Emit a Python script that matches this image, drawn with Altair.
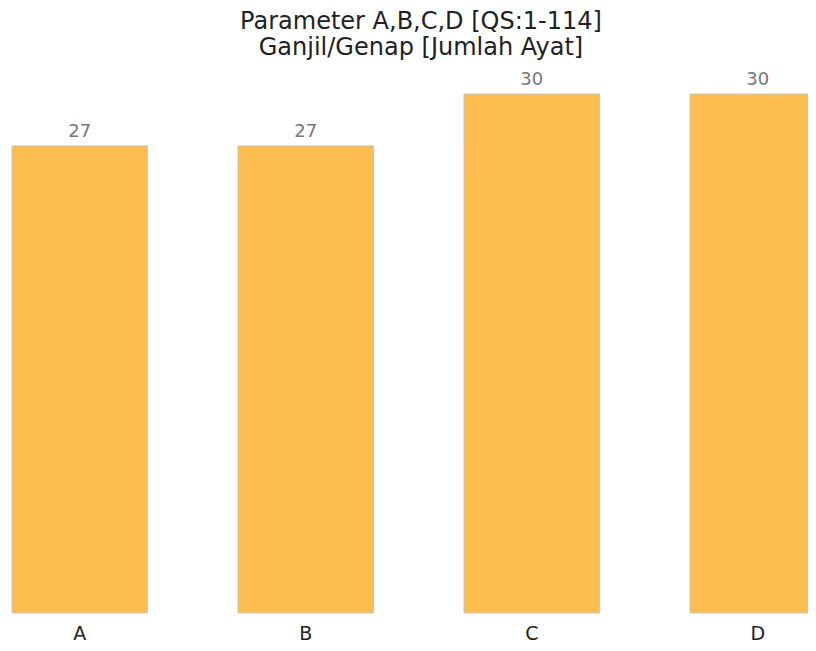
import altair as alt
import pandas as pd

categories = ["A", "B", "C", "D"]
values = [27, 27, 30, 30]
title_lines = ["Parameter A,B,C,D [QS:1-114]", "Ganjil/Genap [Jumlah Ayat]"]

df = pd.DataFrame({"cat": categories, "val": values})

FONT = "DejaVu Sans"

x = alt.X(
    "cat:N",
    sort=categories,
    title=None,
    scale=alt.Scale(range=[4, 817.6], paddingInner=0.4, paddingOuter=0),
    axis=alt.Axis(
        labelAngle=0, domain=False, ticks=False, grid=False,
        labelFont=FONT, labelFontSize=19, labelColor="#222222", labelPadding=11,
    ),
)
y = alt.Y("val:Q", title=None, scale=alt.Scale(domain=[0, 30], nice=False), axis=None)

bars = alt.Chart(df).mark_bar(
    color="#FCBC4E", stroke="#c8c8c8", strokeWidth=1
).encode(x=x, y=y)

labels = alt.Chart(df).mark_text(
    baseline="bottom", dy=-5, font=FONT, fontSize=18, color="#777777"
).encode(x=x, y=y, text="val:Q")

chart = (
    alt.layer(bars, labels)
    .properties(
        width=800,
        height=519,
        autosize=alt.AutoSizeParams(type="none"),
        padding={"top": 86, "left": 0, "right": 0, "bottom": 30},
        title=alt.TitleParams(
            text=title_lines, font=FONT, fontSize=24, fontWeight="normal",
            color="#222222", anchor="middle", offset=11, dx=13, lineHeight=26,
        ),
    )
    .configure_view(stroke=None)
)

chart.save("out.html", embed_options={"renderer": "svg", "actions": False})
